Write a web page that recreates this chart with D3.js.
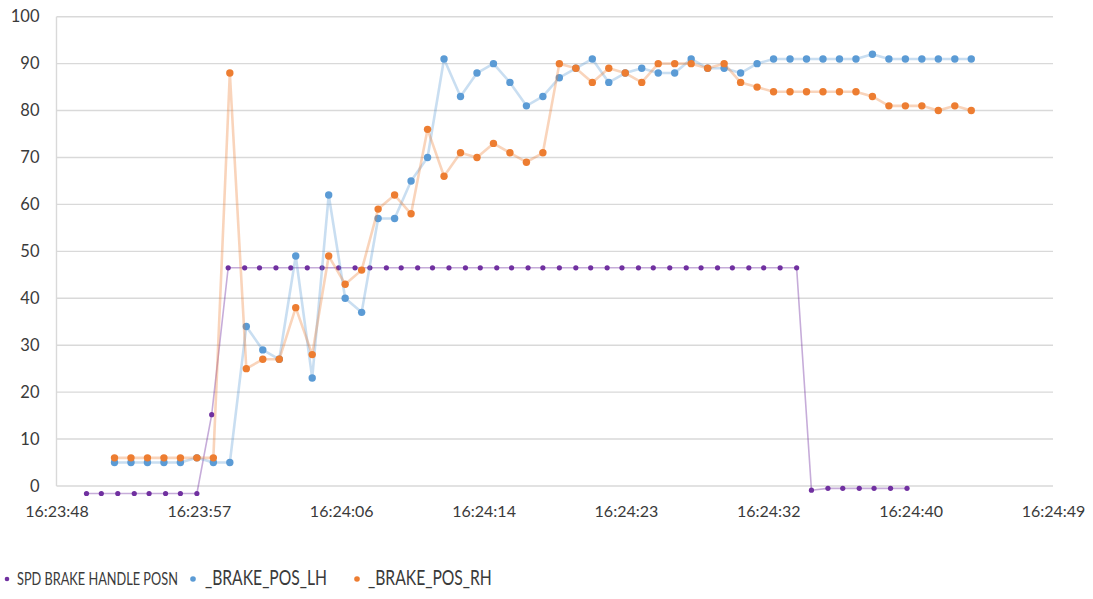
<!DOCTYPE html>
<html>
<head>
<meta charset="utf-8">
<script src="https://cdn.jsdelivr.net/npm/d3@7/dist/d3.min.js"></script>
<style>
  html, body { margin: 0; padding: 0; background: #ffffff; }
  svg { display: block; }
  text { font-family: Lato, "Open Sans", "Liberation Sans", sans-serif; fill: #3a3a3a; }
</style>
</head>
<body>
<svg id="chart" width="1093" height="599"></svg>
<script>
// ---------- DATA ----------
const seriesNames = ["SPD BRAKE HANDLE POSN", "_BRAKE_POS_LH", "_BRAKE_POS_RH"];

const handleTimes = [
  "16:23:50.3","16:23:51.2","16:23:52.2","16:23:53.2","16:23:54.1","16:23:55.1","16:23:56.0","16:23:57.0",
  "16:23:57.9","16:23:58.9","16:23:59.9","16:24:00.8","16:24:01.8","16:24:02.7","16:24:03.7","16:24:04.6",
  "16:24:05.6","16:24:06.6","16:24:07.5","16:24:08.5","16:24:09.4","16:24:10.4","16:24:11.3","16:24:12.3",
  "16:24:13.3","16:24:14.2","16:24:15.2","16:24:16.1","16:24:17.1","16:24:18.0","16:24:19.0","16:24:20.0",
  "16:24:20.9","16:24:21.9","16:24:22.8","16:24:23.8","16:24:24.7","16:24:25.7","16:24:26.7","16:24:27.6",
  "16:24:28.6","16:24:29.5","16:24:30.5","16:24:31.4","16:24:32.4","16:24:33.4","16:24:34.3","16:24:35.3",
  "16:24:36.2","16:24:37.2","16:24:38.1","16:24:39.1","16:24:40.1"
];
const handleValues = [
  -1.6,-1.6,-1.6,-1.6,-1.6,-1.6,-1.6,-1.6,
  15.2,46.5,46.5,46.5,46.5,46.5,46.5,46.5,
  46.5,46.5,46.5,46.5,46.5,46.5,46.5,46.5,
  46.5,46.5,46.5,46.5,46.5,46.5,46.5,46.5,
  46.5,46.5,46.5,46.5,46.5,46.5,46.5,46.5,
  46.5,46.5,46.5,46.5,46.5,46.5,-0.9,-0.5,
  -0.5,-0.5,-0.5,-0.5,-0.5
];

const brakeTimes = [
  "16:23:52","16:23:53","16:23:54","16:23:55","16:23:56","16:23:57","16:23:58","16:23:59",
  "16:24:00","16:24:01","16:24:02","16:24:03","16:24:04","16:24:05","16:24:06","16:24:07",
  "16:24:08","16:24:09","16:24:10","16:24:11","16:24:12","16:24:13","16:24:14","16:24:15",
  "16:24:16","16:24:17","16:24:18","16:24:19","16:24:20","16:24:21","16:24:22","16:24:23",
  "16:24:24","16:24:25","16:24:26","16:24:27","16:24:28","16:24:29","16:24:30","16:24:31",
  "16:24:32","16:24:33","16:24:34","16:24:35","16:24:36","16:24:37","16:24:38","16:24:39",
  "16:24:40","16:24:41","16:24:42","16:24:43","16:24:44"
];
const brakeLH = [
  5,5,5,5,5,6,5,5,
  34,29,27,49,23,62,40,37,
  57,57,65,70,91,83,88,90,
  86,81,83,87,89,91,86,88,
  89,88,88,91,89,89,88,90,
  91,91,91,91,91,91,92,91,
  91,91,91,91,91
];
const brakeRH = [
  6,6,6,6,6,6,6,88,
  25,27,27,38,28,49,43,46,
  59,62,58,76,66,71,70,73,
  71,69,71,90,89,86,89,88,
  86,90,90,90,89,90,86,85,
  84,84,84,84,84,84,83,81,
  81,81,80,81,80
];

const xTicks = ["16:23:48.48","16:23:57.12","16:24:05.76","16:24:14.40","16:24:23.04","16:24:31.68","16:24:40.32","16:24:48.96"];
const xTickLabels = ["16:23:48","16:23:57","16:24:06","16:24:14","16:24:23","16:24:32","16:24:40","16:24:49"];
const yTicks = [0,10,20,30,40,50,60,70,80,90,100];

// ---------- HELPERS ----------
function toSec(s) {
  const p = s.split(":");
  return (+p[0]) * 3600 + (+p[1]) * 60 + (+p[2]);
}

// ---------- LAYOUT ----------
const W = 1093, H = 599;
const margin = { left: 56.5, right: 40, top: 16.7, bottom: 113 };
const svg = d3.select("#chart");

const x = d3.scaleLinear()
  .domain([toSec(xTicks[0]), toSec(xTicks[xTicks.length - 1])])
  .range([margin.left, W - margin.right]);
const y = d3.scaleLinear()
  .domain([0, 100])
  .range([H - margin.bottom, margin.top]);

// gridlines
const gGrid = svg.append("g");
gGrid.selectAll("line").data(yTicks).join("line")
  .attr("x1", margin.left).attr("x2", W - margin.right)
  .attr("y1", d => y(d)).attr("y2", d => y(d))
  .attr("stroke", "#d9d9d9").attr("stroke-width", 1.4);

// left axis line
svg.append("line")
  .attr("x1", margin.left).attr("x2", margin.left)
  .attr("y1", y(100)).attr("y2", y(0))
  .attr("stroke", "#d9d9d9").attr("stroke-width", 1.4);

// y axis labels
const yAxis = d3.axisLeft(y).tickValues(yTicks).tickSize(0).tickPadding(17);
const gy = svg.append("g").attr("transform", `translate(${margin.left},0)`).call(yAxis);
gy.select(".domain").remove();
gy.selectAll("text").style("font-size", "16.5px").style("font-family", "Lato, 'Open Sans', sans-serif").attr("fill", "#333");

// x axis labels
const xAxis = d3.axisBottom(x)
  .tickValues(xTicks.map(toSec))
  .tickSize(0).tickPadding(20)
  .tickFormat((d, i) => xTickLabels[i]);
const gx = svg.append("g").attr("transform", `translate(0,${y(0)})`).call(xAxis);
gx.select(".domain").remove();
gx.selectAll("text").style("font-size", "16px").style("font-family", "Lato, 'Open Sans', sans-serif").attr("fill", "#333");

// ---------- SERIES ----------
const series = [
  { name: seriesNames[0], times: handleTimes, values: handleValues, color: "#7030a0", r: 2.6, lw: 1.6, lo: 0.4 },
  { name: seriesNames[1], times: brakeTimes, values: brakeLH, color: "#5b9bd5", r: 3.7, lw: 2.6, lo: 0.33 },
  { name: seriesNames[2], times: brakeTimes, values: brakeRH, color: "#ed7d31", r: 3.7, lw: 2.6, lo: 0.33 }
];

const line = d3.line().x(d => x(d.t)).y(d => y(d.v));

series.forEach(s => {
  const pts = s.times.map((t, i) => ({ t: toSec(t), v: s.values[i] }));
  const g = svg.append("g");
  g.append("path").datum(pts)
    .attr("d", line)
    .attr("fill", "none")
    .attr("stroke", s.color)
    .attr("stroke-opacity", s.lo)
    .attr("stroke-width", s.lw)
    .attr("stroke-linejoin", "round");
  g.selectAll("circle").data(pts).join("circle")
    .attr("cx", d => x(d.t)).attr("cy", d => y(d.v))
    .attr("r", s.r)
    .attr("fill", s.color);
});

// ---------- LEGEND ----------
const legend = [
  { dx: 7, tx: 17, size: 17, len: 161, r: 2.3 },
  { dx: 193, tx: 205, size: 21, len: 122, r: 2.8 },
  { dx: 357, tx: 368, size: 21, len: 124, r: 2.8 }
];
const gl = svg.append("g");
legend.forEach((l, i) => {
  gl.append("circle").attr("cx", l.dx).attr("cy", 579).attr("r", l.r).attr("fill", series[i].color);
  const t = gl.append("text")
    .attr("x", 0).attr("y", 0)
    .style("font-size", l.size + "px")
    .attr("fill", "#222")
    .text(seriesNames[i]);
  const w = t.node().getComputedTextLength();
  t.attr("transform", `translate(${l.tx},585) scale(${l.len / w},1)`);
});
</script>
</body>
</html>
